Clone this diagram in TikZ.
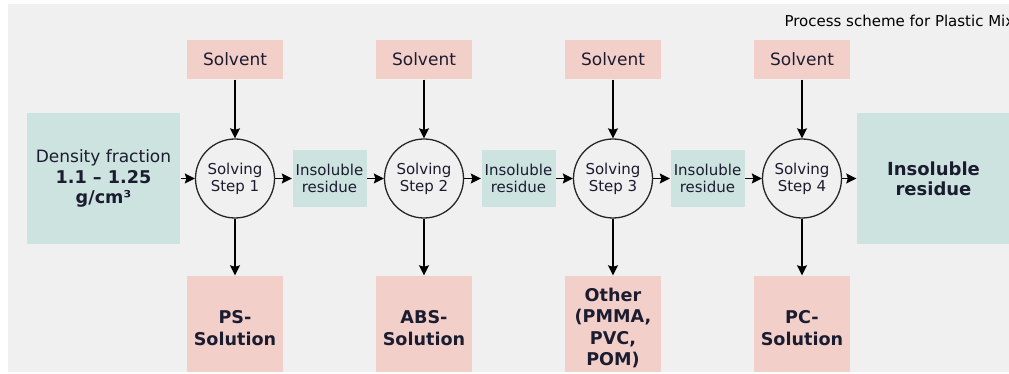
\documentclass[tikz,border=0pt]{standalone}
\usepackage{fontspec}
\setmainfont{DejaVu Sans}
\usetikzlibrary{arrows.meta}

\definecolor{rosa}{HTML}{F2D0C9}
\definecolor{verdeacqua}{HTML}{CDE3E0}
\definecolor{sfondo}{HTML}{F0F0F0}
\definecolor{testo}{HTML}{1C1C30}

\begin{document}
\begin{tikzpicture}[->, >={Stealth[length=10pt,width=10pt,inset=1.5pt]}, line width=1.4pt, node distance=189pt, text=testo]

%====Sfondo e cornice==========================================================
	\useasboundingbox (0,0) rectangle (1009pt,374pt);
	\fill[white] (0,0) rectangle (1009pt,374pt);
	\fill[sfondo] (8pt,2pt) rectangle (1009pt,370pt);
	\clip (8pt,2pt) rectangle (1009pt,370pt);

%====Definizione stili nodi====================================================
	\tikzstyle{solving}=[circle, draw=black!85, line width=1.3pt, minimum size=79pt, inner sep=0pt, align=center, font=\fontsize{15}{17}\selectfont]
	\tikzstyle{solvent}=[fill=rosa, minimum width=96pt, minimum height=39pt, font=\fontsize{17}{20}\selectfont]
	\tikzstyle{product}=[fill=rosa, minimum width=96pt, minimum height=104pt, align=center, font=\fontsize{17.6}{21.5}\selectfont\bfseries]
	\tikzstyle{residue}=[fill=verdeacqua, minimum width=74pt, minimum height=57pt, inner sep=0pt, align=center, font=\fontsize{15}{17}\selectfont]
	\tikzstyle{fraction}=[fill=verdeacqua, minimum width=153pt, minimum height=131pt, align=center, font=\fontsize{17}{20.5}\selectfont]

%====Titolo====================================================================
	\node[anchor=base west, text=black, font=\fontsize{15}{18}\selectfont] (titolo) at (780.5pt,347pt) {Process scheme for Plastic Mix};

%====Passi di dissoluzione=====================================================
	\node[solving] 	(c1) at (235pt,195.5pt)	{Solving\\Step 1};
	\node[solving] 	(c2) [right of=c1]		{Solving\\Step 2};
	\node[solving] 	(c3) [right of=c2]		{Solving\\Step 3};
	\node[solving] 	(c4) [right of=c3]		{Solving\\Step 4};

%====Solvente in ingresso======================================================
	\node[solvent] 	(s1) [above of=c1, node distance=119pt]	{Solvent};
	\node[solvent] 	(s2) [above of=c2, node distance=119pt]	{Solvent};
	\node[solvent] 	(s3) [above of=c3, node distance=119pt]	{Solvent};
	\node[solvent] 	(s4) [above of=c4, node distance=119pt]	{Solvent};

%====Soluzioni in uscita=======================================================
	\node[product] 	(p1) [below of=c1, node distance=149.5pt]	{PS-\\Solution};
	\node[product] 	(p2) [below of=c2, node distance=149.5pt]	{ABS-\\Solution};
	\node[product] 	(p3) [below of=c3, node distance=149.5pt]	{Other\\(PMMA,\\PVC,\\POM)};
	\node[product] 	(p4) [below of=c4, node distance=149.5pt]	{PC-\\Solution};

%====Residui insolubili========================================================
	\node[residue] 	(r1) [right of=c1, node distance=94.5pt]	{Insoluble\\residue};
	\node[residue] 	(r2) [right of=c2, node distance=94.5pt]	{Insoluble\\residue};
	\node[residue] 	(r3) [right of=c3, node distance=94.5pt]	{Insoluble\\residue};

%====Ingresso e uscita finale==================================================
	\node[fraction] (dens) [left of=c1, node distance=131.5pt]	{Density fraction\\\textbf{\fontsize{17.6}{20.5}\selectfont 1.1 – 1.25}\\\textbf{\fontsize{17.6}{20.5}\selectfont g/cm³}};
	\node[fraction, font=\fontsize{18}{20}\selectfont\bfseries] (fin) [right of=c4, node distance=131.5pt]	{Insoluble\\residue};

%====Collegamenti==============================================================
      		%from     	         		to
	\path 	(s1)	edge	(c1)
			(s2)	edge	(c2)
			(s3)	edge	(c3)
			(s4)	edge	(c4)
			(c1)	edge	(p1)
			(c2)	edge	(p2)
			(c3)	edge	(p3)
			(c4)	edge	(p4)
			(dens)	edge	(c1)
			(c1)	edge	(r1)
			(r1)	edge	(c2)
			(c2)	edge	(r2)
			(r2)	edge	(c3)
			(c3)	edge	(r3)
			(r3)	edge	(c4)
			(c4)	edge	(fin);
\end{tikzpicture}
\end{document}
